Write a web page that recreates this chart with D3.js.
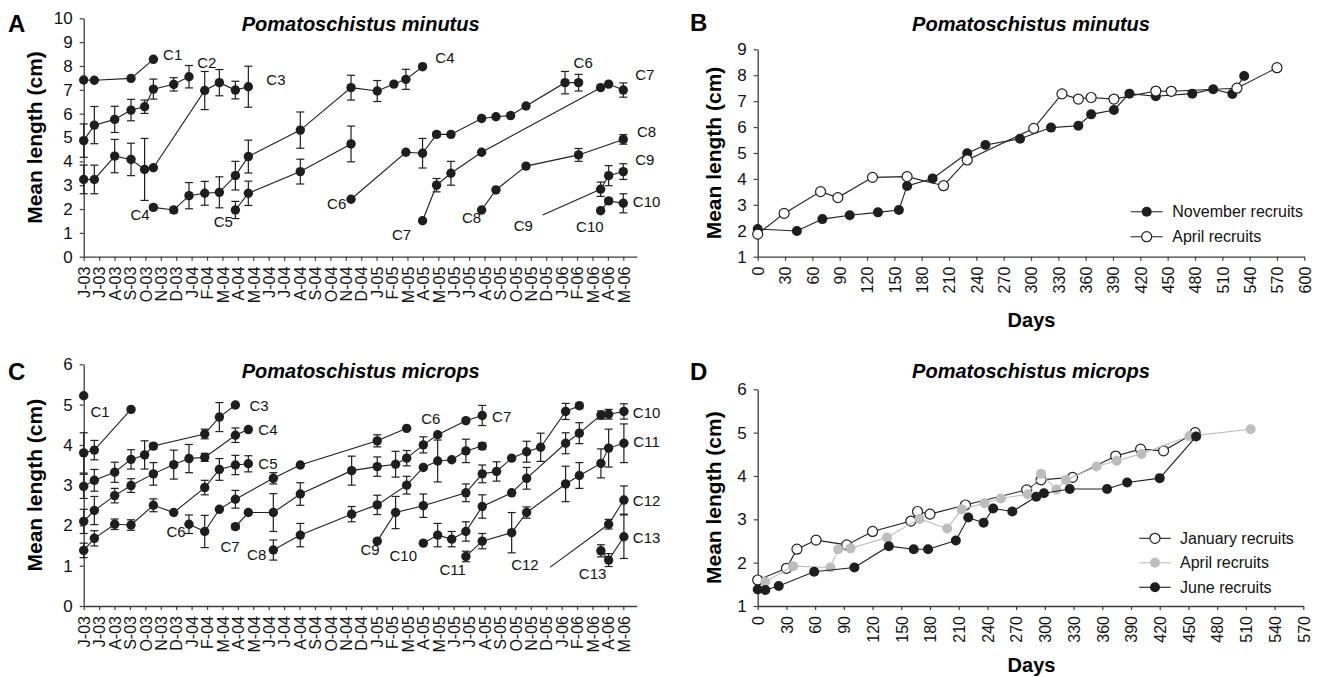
<!DOCTYPE html>
<html><head><meta charset="utf-8">
<script src="https://cdn.jsdelivr.net/npm/d3@7"></script>
<style>
body{margin:0;background:#fff;}
svg{display:block;font-family:"Liberation Sans",Arial,sans-serif;}
</style></head>
<body><svg id="chart" width="1321" height="677"></svg>
<script>
// ---------- DATA ----------
const months = ["J-03","J-03","A-03","S-03","O-03","N-03","D-03","J-04","F-04","M-04","A-04","M-04","J-04","J-04","A-04","S-04","O-04","N-04","D-04","J-05","F-05","M-05","A-05","M-05","J-05","J-05","A-05","S-05","O-05","N-05","D-05","J-06","F-06","M-06","A-06","M-06"];

// Panel A: P. minutus cohorts (t = month index, m = mean length, e = +/- error)
const a_C1_t = [0, 0.69, 3.07, 4.52];
const a_C1_m = [7.41, 7.4, 7.48, 8.28];
const a_C1_e = [null, null, null, null];
const a_C2_t = [0, 0.69, 2.01, 3.07, 3.95, 4.52, 5.84, 6.83];
const a_C2_m = [4.87, 5.52, 5.76, 6.15, 6.29, 7.03, 7.23, 7.55];
const a_C2_e = [0.7, 0.78, 0.55, 0.45, 0.28, 0.42, 0.28, 0.47];
const a_C3_t = [0, 0.69, 2.01, 3.07, 3.95, 4.52, 7.85, 8.8, 9.84, 10.68];
const a_C3_m = [3.24, 3.24, 4.22, 4.08, 3.66, 3.73, 6.97, 7.3, 6.99, 7.13];
const a_C3_e = [0.6, 0.6, 0.7, 0.68, 1.3, null, 0.8, 0.55, 0.37, 0.86];
const a_C4_t = [4.52, 5.84, 6.83, 7.85, 8.8, 9.84, 10.68, 14.05, 17.34, 19.04, 20.12, 20.9, 21.98];
const a_C4_m = [2.07, 1.96, 2.56, 2.66, 2.7, 3.4, 4.2, 5.31, 7.09, 6.95, 7.24, 7.44, 7.97];
const a_C4_e = [0.1, 0.12, 0.55, 0.5, 0.65, 0.6, 0.69, 0.76, 0.52, 0.44, null, 0.42, null];
const a_C5_t = [9.84, 10.68, 14.05, 17.34];
const a_C5_m = [1.96, 2.66, 3.57, 4.73];
const a_C5_e = [0.36, 0.51, 0.52, 0.75];
const a_C6_t = [17.34, 20.9, 21.98, 22.89, 23.82, 25.81, 26.74, 27.69, 28.69, 31.22, 32.1];
const a_C6_m = [2.41, 4.38, 4.34, 5.13, 5.13, 5.8, 5.87, 5.92, 6.32, 7.3, 7.3];
const a_C6_e = [null, null, 0.62, 0.1, null, null, null, null, null, 0.47, 0.35];
const a_C7_t = [21.98, 22.89, 23.82, 25.81, 33.53, 34.05, 35.0];
const a_C7_m = [1.51, 3.0, 3.5, 4.38, 7.09, 7.24, 6.99];
const a_C7_e = [null, 0.28, 0.5, null, null, null, 0.3];
const a_C8_t = [25.81, 26.74, 28.69, 32.1, 35.0];
const a_C8_m = [1.96, 2.8, 3.8, 4.27, 4.92];
const a_C8_e = [null, null, null, 0.27, 0.2];
const a_C9_t = [33.53, 34.05, 35.0];
const a_C9_m = [2.83, 3.4, 3.57];
const a_C9_e = [0.3, 0.42, 0.33];
const a_C10_t = [33.53, 34.05, 35.0];
const a_C10_m = [1.93, 2.34, 2.24];
const a_C10_e = [null, 0.1, 0.4];

// Panel A cohort labels (text, month index, length)
const a_labels = [["C1",5.77,8.46],["C2",7.98,8.14],["C3",12.47,7.42],["C4",3.65,1.75],["C5",9.05,1.47],
  ["C6",16.41,2.24],["C4",23.43,8.33],["C6",32.4,8.12],["C7",36.4,7.62],["C8",36.51,5.25],["C9",36.4,4.06],
  ["C10",36.51,2.31],["C7",20.62,0.91],["C8",25.16,1.65],["C9",28.51,1.29],["C10",32.83,1.26]];
const a_leader = [29.77, 1.75]; // start of C9 pointer line

// Panel C: P. microps cohorts
const c_C0_t = [0];
const c_C0_m = [5.22];
const c_C0_e = [null];
const c_C1_t = [0, 0.69, 3.07];
const c_C1_m = [3.8, 3.87, 4.88];
const c_C1_e = [0.5, 0.24, null];
const c_C3_t = [0, 0.69, 2.01, 3.07, 3.95, 4.52, 7.85, 8.8, 9.84];
const c_C3_m = [2.97, 3.12, 3.32, 3.64, 3.75, 3.97, 4.27, 4.69, 4.99];
const c_C3_e = [0.3, 0.27, 0.25, 0.24, 0.35, 0.07, 0.12, 0.36, null];
const c_C4_t = [0, 0.69, 2.01, 3.07, 4.52, 5.84, 6.83, 7.85, 9.84, 10.68];
const c_C4_m = [2.1, 2.37, 2.74, 2.99, 3.28, 3.51, 3.66, 3.69, 4.24, 4.38];
const c_C4_e = [0.3, 0.35, 0.18, 0.17, 0.28, 0.36, 0.35, 0.1, 0.18, null];
const c_C5_t = [0, 0.69, 2.01, 3.07, 4.52, 5.84, 7.85, 8.8, 9.84, 10.68];
const c_C5_m = [1.38, 1.68, 2.03, 2.01, 2.5, 2.32, 2.94, 3.39, 3.5, 3.53];
const c_C5_e = [0.18, 0.19, 0.13, 0.13, 0.16, null, 0.18, 0.27, 0.24, 0.2];
const c_C6_t = [6.83, 7.85, 8.8, 9.84, 12.3, 14.05, 19.04, 20.95];
const c_C6_m = [2.03, 1.85, 2.4, 2.65, 3.17, 3.5, 4.1, 4.41];
const c_C6_e = [0.23, 0.4, null, 0.22, 0.14, null, 0.15, null];
const c_C7_t = [9.84, 10.68, 12.3, 14.05, 17.38, 19.04, 20.23, 20.95, 22.03, 22.96, 24.79, 25.85];
const c_C7_m = [1.97, 2.32, 2.32, 2.78, 3.36, 3.46, 3.52, 3.67, 4.0, 4.25, 4.6, 4.73];
const c_C7_e = [0.06, null, 0.47, 0.28, 0.36, 0.24, 0.32, 0.19, 0.2, null, null, 0.25];
const c_C8_t = [12.3, 14.05, 17.38, 19.04, 20.95, 22.03, 22.96, 23.87, 24.79, 25.85];
const c_C8_m = [1.39, 1.76, 2.28, 2.51, 3.0, 3.44, 3.6, 3.63, 3.85, 3.97];
const c_C8_e = [0.25, 0.29, 0.19, 0.24, 0.22, null, 0.52, null, 0.29, 0.08];
const c_C9_t = [19.04, 20.23, 22.03, 24.79, 25.85, 26.78, 27.76, 28.73, 29.64, 31.26, 32.15];
const c_C9_m = [1.61, 2.32, 2.49, 2.81, 3.28, 3.34, 3.67, 3.83, 3.94, 4.83, 4.97];
const c_C9_e = [null, 0.4, 0.29, 0.22, 0.22, 0.24, null, 0.26, 0.35, 0.2, 0.07];
const c_C10_t = [22.03, 22.96, 23.87, 24.79, 25.85, 27.76, 28.73, 31.26, 32.15, 33.55, 34.05, 35.04];
const c_C10_m = [1.56, 1.76, 1.66, 1.85, 2.47, 2.81, 3.17, 4.04, 4.29, 4.74, 4.76, 4.83];
const c_C10_e = [null, 0.29, 0.19, 0.24, 0.29, null, 0.27, 0.26, 0.26, 0.1, 0.12, 0.19];
const c_C11_t = [24.79, 25.85, 27.76, 28.73, 31.26, 32.15, 33.55, 34.05, 35.04];
const c_C11_m = [1.23, 1.61, 1.82, 2.32, 3.03, 3.24, 3.54, 3.92, 4.04];
const c_C11_e = [0.13, 0.19, 0.5, 0.14, 0.44, 0.32, 0.36, 0.47, 0.48];
const c_C12_t = [34.05, 35.04];
const c_C12_m = [2.03, 2.63];
const c_C12_e = [0.12, 0.35];
const c_C13_t = [33.55, 34.05, 35.04];
const c_C13_m = [1.37, 1.14, 1.72];
const c_C13_e = [0.15, 0.16, 0.54];

const c_labels = [["C1",1.06,4.82],["C3",11.37,4.96],["C4",11.95,4.37],["C5",11.95,3.52],["C6",5.99,1.84],
  ["C7",9.49,1.47],["C8",11.22,1.27],["C6",22.52,4.66],["C7",27.11,4.71],["C9",18.57,1.39],["C10",20.73,1.24],
  ["C11",23.93,0.89],["C12",28.62,1.02],["C13",33.01,0.81],["C10",36.51,4.8],["C11",36.51,4.08],
  ["C12",36.51,2.61],["C13",36.51,1.7]];
const c_leader = [30.24, 0.96]; // start of C12 pointer line

// Panel B: P. minutus recruits (days, mean length)
const b_nov_days = [0, 43, 71, 101, 132, 155, 164, 192, 230, 250, 288, 322, 352, 366, 391, 408, 437, 477, 500, 521, 534];
const b_nov_len  = [2.07, 1.99, 2.45, 2.6, 2.71, 2.8, 3.73, 4.02, 4.99, 5.31, 5.55, 5.98, 6.05, 6.49, 6.66, 7.29, 7.19, 7.29, 7.46, 7.28, 7.97];
const b_apr_days = [0, 29, 69, 88, 126, 164, 204, 230, 303, 334, 352, 366, 391, 437, 454, 526, 570];
const b_apr_len  = [1.87, 2.67, 3.51, 3.28, 4.06, 4.09, 3.74, 4.73, 5.95, 7.28, 7.08, 7.14, 7.08, 7.39, 7.38, 7.5, 8.29];

// Panel D: P. microps recruits
const d_jan_days = [0, 30, 41, 61, 93, 120, 160, 167, 180, 217, 281, 296, 329, 374, 400, 424, 457];
const d_jan_len  = [1.6, 1.87, 2.31, 2.52, 2.41, 2.72, 2.96, 3.18, 3.12, 3.33, 3.68, 3.91, 3.97, 4.46, 4.62, 4.58, 5.0];
const d_apr_days = [8, 37, 76, 84, 97, 135, 169, 198, 213, 237, 254, 282, 296, 312, 322, 354, 375, 401, 451, 515];
const d_apr_len  = [1.56, 1.92, 1.89, 2.31, 2.33, 2.58, 3.01, 2.79, 3.23, 3.37, 3.48, 3.58, 4.05, 3.69, 3.91, 4.22, 4.35, 4.51, 4.92, 5.08];
const d_jun_days = [0, 8, 22, 59, 101, 137, 163, 178, 207, 220, 236, 246, 266, 291, 299, 326, 365, 386, 420, 458];
const d_jun_len  = [1.38, 1.37, 1.46, 1.79, 1.89, 2.38, 2.31, 2.31, 2.51, 3.04, 2.92, 3.25, 3.18, 3.52, 3.6, 3.7, 3.7, 3.85, 3.95, 4.91];

const titleMinutus = "Pomatoschistus minutus";
const titleMicrops = "Pomatoschistus microps";
const yTitle = "Mean length (cm)";
const xTitle = "Days";

// ---------- DRAW ----------
const svg = d3.select("#chart");
const FONT = "'Liberation Sans', Arial, sans-serif";
const INK = "#1e1e1e", AXC = "#3c3c3c", GREY = "#bdbdbd";
const fmtInt = d3.format("d");

function mk(t, m, e){ return t.map((d,i)=>({t:d, m:m[i], e:e ? e[i] : null})); }

const cohortsA = [mk(a_C1_t,a_C1_m,a_C1_e), mk(a_C2_t,a_C2_m,a_C2_e), mk(a_C3_t,a_C3_m,a_C3_e),
  mk(a_C4_t,a_C4_m,a_C4_e), mk(a_C5_t,a_C5_m,a_C5_e), mk(a_C6_t,a_C6_m,a_C6_e), mk(a_C7_t,a_C7_m,a_C7_e),
  mk(a_C8_t,a_C8_m,a_C8_e), mk(a_C9_t,a_C9_m,a_C9_e), mk(a_C10_t,a_C10_m,a_C10_e)];
const cohortsC = [mk(c_C0_t,c_C0_m,c_C0_e), mk(c_C1_t,c_C1_m,c_C1_e), mk(c_C3_t,c_C3_m,c_C3_e),
  mk(c_C4_t,c_C4_m,c_C4_e), mk(c_C5_t,c_C5_m,c_C5_e), mk(c_C6_t,c_C6_m,c_C6_e), mk(c_C7_t,c_C7_m,c_C7_e),
  mk(c_C8_t,c_C8_m,c_C8_e), mk(c_C9_t,c_C9_m,c_C9_e), mk(c_C10_t,c_C10_m,c_C10_e), mk(c_C11_t,c_C11_m,c_C11_e),
  mk(c_C12_t,c_C12_m,c_C12_e), mk(c_C13_t,c_C13_m,c_C13_e)];

function styleAxis(size){
  return function(g){
    g.select(".domain").attr("stroke", AXC).attr("stroke-width", 1.3);
    g.selectAll(".tick line").attr("stroke", AXC).attr("stroke-width", 1.2);
    g.selectAll("text").attr("fill", "#111").style("font-family", FONT).style("font-size", size+"px");
  };
}
function rotateX(g){
  g.selectAll(".tick text").attr("transform","rotate(-90)").attr("x",-10).attr("y",0)
   .attr("dy","0.36em").style("text-anchor","end");
}

function panelText(x, y, txt, size, weight, style, anchor, rot){
  const t = svg.append("text").attr("x", x).attr("y", y).text(txt)
    .style("font-family", FONT).style("font-size", size+"px").style("font-weight", weight||"normal")
    .style("font-style", style||"normal").attr("text-anchor", anchor||"start").attr("fill","#000");
  if(rot) t.attr("transform", `rotate(${rot},${x},${y})`);
  return t;
}

function cohortPanel(opts){
  const {x, y, cohorts, yMax, labels, leader, leaderTo, title, letter, letterY, titleY} = opts;
  const gAx = svg.append("g");
  gAx.append("g").attr("transform",`translate(0,${y.range()[0]})`)
    .call(d3.axisBottom(x).tickValues(d3.range(months.length)).tickFormat(i=>months[i]).tickSize(4).tickSizeOuter(0))
    .call(styleAxis(16)).call(rotateX);
  gAx.append("g").attr("transform",`translate(${x.range()[0]},0)`)
    .call(d3.axisLeft(y).tickValues(d3.range(0, yMax+1)).tickFormat(fmtInt).tickSize(4).tickPadding(7).tickSizeOuter(0))
    .call(styleAxis(17));

  const line = d3.line().x(d=>x(d.t)).y(d=>y(d.m));
  const g = svg.append("g");
  const tgt = cohorts[leaderTo][0];
  g.append("line").attr("x1", x(leader[0])).attr("y1", y(leader[1])).attr("x2", x(tgt.t)).attr("y2", y(tgt.m))
    .attr("stroke", INK).attr("stroke-width", 1.1);
  cohorts.forEach(c=>{
    g.append("path").datum(c).attr("d", line).attr("fill","none").attr("stroke",INK).attr("stroke-width",1.1);
  });
  cohorts.forEach(c=>{
    c.filter(d=>d.e!=null).forEach(d=>{
      const xx = x(d.t), y1 = y(d.m - d.e), y2 = y(d.m + d.e);
      g.append("line").attr("x1",xx).attr("x2",xx).attr("y1",y1).attr("y2",y2).attr("stroke",INK).attr("stroke-width",1.2);
      [y1,y2].forEach(yy=> g.append("line").attr("x1",xx-4).attr("x2",xx+4).attr("y1",yy).attr("y2",yy).attr("stroke",INK).attr("stroke-width",1.2));
    });
  });
  cohorts.forEach(c=>{
    g.selectAll(null).data(c).enter().append("circle").attr("cx",d=>x(d.t)).attr("cy",d=>y(d.m))
      .attr("r",4.7).attr("fill",INK);
  });
  labels.forEach(l=>{
    g.append("text").attr("x", x(l[1])).attr("y", y(l[2])).attr("dy","0.35em").attr("text-anchor","middle")
      .text(l[0]).style("font-family",FONT).style("font-size","15px").attr("fill","#111");
  });
  panelText((x.range()[0]+x.range()[1])/2 + 0.5, titleY, title, 20, "bold", "italic", "middle");
  panelText(8, letterY, letter, 24, "bold");
  const cy = (y.range()[0]+y.range()[1])/2;
  panelText(42, cy, yTitle, 21, "bold", "normal", "middle", -90);
}

// Panel A
const xA = d3.scaleLinear().domain([0, 35.87]).range([83.7, 636.7]);
const yA = d3.scaleLinear().domain([0, 10]).range([256.7, 18.3]);
cohortPanel({x:xA, y:yA, cohorts:cohortsA, yMax:10, labels:a_labels, leader:a_leader, leaderTo:8,
  title:titleMinutus, letter:"A", letterY:32, titleY:31});

// Panel C
const xC = d3.scaleLinear().domain([0, 35.87]).range([83.7, 636.7]);
const yC = d3.scaleLinear().domain([0, 6]).range([606, 364.3]);
cohortPanel({x:xC, y:yC, cohorts:cohortsC, yMax:6, labels:c_labels, leader:c_leader, leaderTo:11,
  title:titleMicrops, letter:"C", letterY:380, titleY:378});

function recruitPanel(opts){
  const {x, y, xMax, yMin, yMax, series, title, letter, letterY, titleY, daysY, legend} = opts;
  const gAx = svg.append("g");
  gAx.append("g").attr("transform",`translate(0,${y.range()[0]})`)
    .call(d3.axisBottom(x).tickValues(d3.range(0, xMax+1, 30)).tickFormat(fmtInt).tickSize(4).tickSizeOuter(0))
    .call(styleAxis(16)).call(rotateX);
  gAx.append("g").attr("transform",`translate(${x.range()[0]},0)`)
    .call(d3.axisLeft(y).tickValues(d3.range(yMin, yMax+1)).tickFormat(fmtInt).tickSize(4).tickPadding(7).tickSizeOuter(0))
    .call(styleAxis(17));
  const line = d3.line().x(d=>x(d[0])).y(d=>y(d[1]));
  const g = svg.append("g");
  series.forEach(s=>{
    const pts = s.days.map((d,i)=>[d, s.len[i]]);
    g.append("path").datum(pts).attr("d", line).attr("fill","none").attr("stroke", s.line).attr("stroke-width",1.1);
    g.selectAll(null).data(pts).enter().append("circle").attr("cx",d=>x(d[0])).attr("cy",d=>y(d[1]))
      .attr("r",5).attr("fill", s.fill).attr("stroke", s.stroke).attr("stroke-width", s.stroke==="none"?0:1.2);
  });
  legend.items.forEach((s,i)=>{
    const ly = legend.y0 + i*legend.dy;
    g.append("line").attr("x1",legend.x1).attr("x2",legend.x2).attr("y1",ly).attr("y2",ly).attr("stroke",s.line).attr("stroke-width",1.1);
    g.append("circle").attr("cx",(legend.x1+legend.x2)/2).attr("cy",ly).attr("r",5).attr("fill",s.fill)
      .attr("stroke",s.stroke).attr("stroke-width", s.stroke==="none"?0:1.2);
    g.append("text").attr("x",legend.tx).attr("y",ly).attr("dy","0.35em").text(s.name)
      .style("font-family",FONT).style("font-size","16px").attr("fill","#111");
  });
  panelText(1031, titleY, title, 20, "bold", "italic", "middle");
  panelText(690, letterY, letter, 24, "bold");
  panelText(1031.5, daysY, xTitle, 20, "bold", "normal", "middle");
  const cy = (y.range()[0]+y.range()[1])/2;
  panelText(721, cy, yTitle, 21, "bold", "normal", "middle", -90);
}

// Panel B
const xB = d3.scaleLinear().domain([0, 600]).range([757.7, 1304.3]);
const yB = d3.scaleLinear().domain([1, 9]).range([256.7, 49.3]);
const novS = {name:"November recruits", days:b_nov_days, len:b_nov_len, fill:INK, stroke:"none", line:INK};
const aprS = {name:"April recruits", days:b_apr_days, len:b_apr_len, fill:"#fff", stroke:INK, line:INK};
recruitPanel({x:xB, y:yB, xMax:600, yMin:1, yMax:9, series:[novS, aprS], title:titleMinutus,
  letter:"B", letterY:31, titleY:31, daysY:327,
  legend:{items:[novS, aprS], y0:211.7, dy:25, x1:1130.7, x2:1162.7, tx:1172.3}});

// Panel D
const xD = d3.scaleLinear().domain([0, 570]).range([757.7, 1303.3]);
const yD = d3.scaleLinear().domain([1, 6]).range([606, 389.3]);
const janS = {name:"January recruits", days:d_jan_days, len:d_jan_len, fill:"#fff", stroke:INK, line:INK};
const aprD = {name:"April recruits", days:d_apr_days, len:d_apr_len, fill:GREY, stroke:"none", line:GREY};
const junS = {name:"June recruits", days:d_jun_days, len:d_jun_len, fill:INK, stroke:"none", line:INK};
recruitPanel({x:xD, y:yD, xMax:570, yMin:1, yMax:6, series:[janS, aprD, junS], title:titleMicrops,
  letter:"D", letterY:380, titleY:378, daysY:672,
  legend:{items:[janS, aprD, junS], y0:538.3, dy:24.5, x1:1139.3, x2:1170.7, tx:1180}});
</script>
</body></html>
